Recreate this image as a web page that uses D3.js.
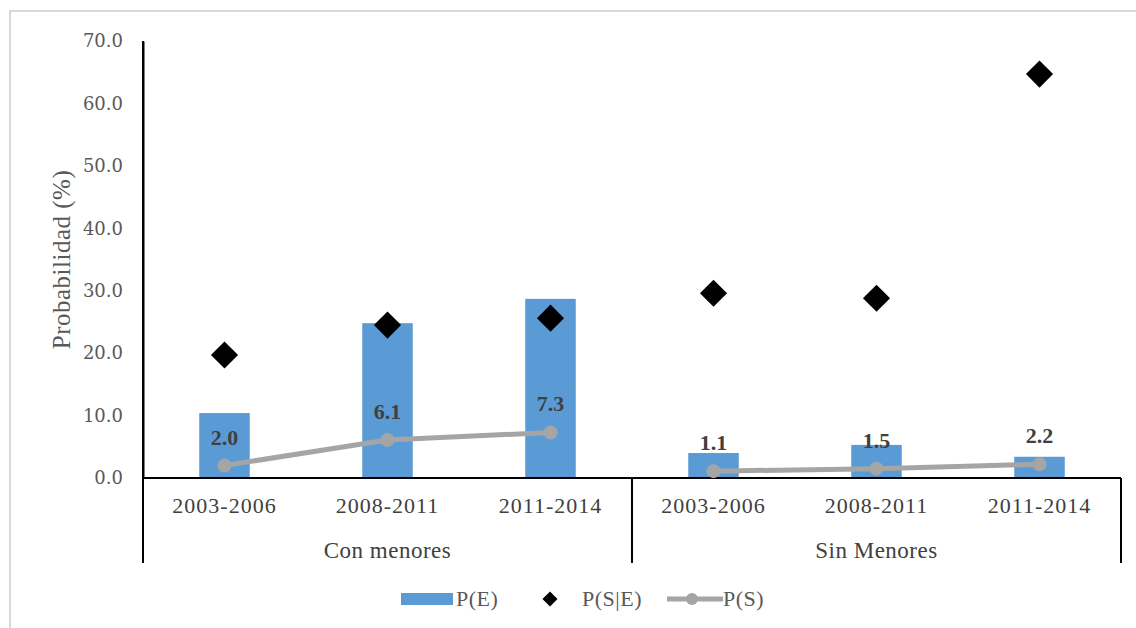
<!DOCTYPE html>
<html>
<head>
<meta charset="utf-8">
<script src="https://cdn.jsdelivr.net/npm/d3@7"></script>
<style>
  body { margin: 0; background: #fff; }
  text { font-family: "Liberation Serif", "Times New Roman", serif; }
</style>
</head>
<body>
<div id="chart"></div>
<script>
// data
var groups = ["Con menores", "Sin Menores"];
var periods = ["2003-2006", "2008-2011", "2011-2014"];
var pE = [10.4, 24.8, 28.7, 4.0, 5.3, 3.4];
var pSE = [19.7, 24.5, 25.6, 29.6, 28.8, 64.7];
var pS = [2.0, 6.1, 7.3, 1.1, 1.5, 2.2];
var yTicks = [0, 10, 20, 30, 40, 50, 60, 70];

var W = 1136, H = 628;
var margin = {top: 41, left: 143, right: 15, bottom: 150};
var plotW = 1121 - margin.left;
var plotH = 478 - margin.top;

var svg = d3.select("#chart").append("svg")
    .attr("width", W)
    .attr("height", H);

// light frame
svg.append("path")
    .attr("d", "M10," + H + "V11H" + W)
    .attr("fill", "none")
    .attr("stroke", "#d9d9d9")
    .attr("stroke-width", 2);

var g = svg.append("g")
    .attr("transform", "translate(" + margin.left + "," + margin.top + ")");

// one band per (group, period)
var keys = [];
groups.forEach(function(gr, gi) {
  periods.forEach(function(p, pi) { keys.push(gi * periods.length + pi); });
});

var x = d3.scaleBand()
    .domain(keys)
    .range([0, plotW])
    .paddingInner(0.69)
    .paddingOuter(0.345);

var y = d3.scaleLinear()
    .domain([0, 70])
    .range([plotH, 0]);

// y axis
var yAxis = g.append("g")
    .call(d3.axisLeft(y).tickValues(yTicks).tickFormat(d3.format(".1f")).tickSize(0).tickPadding(20));
yAxis.select(".domain").attr("stroke", "#000").attr("stroke-width", 2);
yAxis.selectAll("text")
    .style("font-size", "18px")
    .style("fill", "#595959")
    .style("font-family", "'DejaVu Serif', serif");

// axis title
g.append("text")
    .attr("transform", "translate(-73," + (plotH / 2) + ") rotate(-90)")
    .attr("text-anchor", "middle")
    .style("font-size", "25px")
    .style("letter-spacing", "0.5px")
    .style("fill", "#595959")
    .text("Probabilidad (%)");

// bars
g.selectAll(".bar")
    .data(pE)
    .enter()
    .append("rect")
    .attr("class", "bar")
    .attr("x", function(d, i) { return x(i); })
    .attr("width", x.bandwidth())
    .attr("y", function(d) { return y(d); })
    .attr("height", function(d) { return y(0) - y(d); })
    .attr("fill", "#5b9bd5");

// category box
var step = x.step();
var boxBottom = 563 - margin.top;
g.append("line")
    .attr("x1", 0).attr("x2", plotW)
    .attr("y1", plotH).attr("y2", plotH)
    .attr("stroke", "#000").attr("stroke-width", 2);
[0, 3, 6].forEach(function(k) {
  g.append("line")
      .attr("x1", k * step).attr("x2", k * step)
      .attr("y1", k === 0 ? 0 : plotH).attr("y2", boxBottom)
      .attr("stroke", "#000").attr("stroke-width", 2);
});

// period labels
g.selectAll(".per")
    .data(keys)
    .enter()
    .append("text")
    .attr("class", "per")
    .attr("x", function(d) { return x(d) + x.bandwidth() / 2; })
    .attr("y", plotH + 35)
    .attr("text-anchor", "middle")
    .style("font-size", "22px")
    .style("letter-spacing", "1px")
    .style("fill", "#404040")
    .text(function(d) { return periods[d % periods.length]; });

// group labels
g.selectAll(".grp")
    .data(groups)
    .enter()
    .append("text")
    .attr("class", "grp")
    .attr("x", function(d, i) { return (i * 3 + 1.5) * step; })
    .attr("y", plotH + 80)
    .attr("text-anchor", "middle")
    .style("font-size", "23px")
    .style("letter-spacing", "0.5px")
    .style("fill", "#404040")
    .text(function(d) { return d; });

// P(S) lines, broken between groups
var line = d3.line()
    .x(function(d) { return x(d.k) + x.bandwidth() / 2; })
    .y(function(d) { return y(d.v); });

groups.forEach(function(gr, gi) {
  var pts = periods.map(function(p, pi) {
    var k = gi * periods.length + pi;
    return {k: k, v: pS[k]};
  });
  g.append("path")
      .datum(pts)
      .attr("d", line)
      .attr("fill", "none")
      .attr("stroke", "#a5a5a5")
      .attr("stroke-width", 5);
});

g.selectAll(".dot")
    .data(pS)
    .enter()
    .append("circle")
    .attr("cx", function(d, i) { return x(i) + x.bandwidth() / 2; })
    .attr("cy", function(d) { return y(d); })
    .attr("r", 7)
    .attr("fill", "#a5a5a5");

// labels for P(S)
g.selectAll(".lab")
    .data(pS)
    .enter()
    .append("text")
    .attr("class", "lab")
    .attr("x", function(d, i) { return x(i) + x.bandwidth() / 2; })
    .attr("y", function(d) { return y(d) - 21; })
    .attr("text-anchor", "middle")
    .style("font-size", "22px")
    .style("font-weight", "bold")
    .style("fill", "#404040")
    .text(function(d) { return d3.format(".1f")(d); });

// P(S|E) diamonds
var diamond = d3.symbol().type(d3.symbolDiamond2).size(470);
g.selectAll(".dia")
    .data(pSE)
    .enter()
    .append("path")
    .attr("class", "dia")
    .attr("d", diamond)
    .attr("transform", function(d, i) {
      return "translate(" + (x(i) + x.bandwidth() / 2) + "," + y(d) + ")";
    })
    .attr("fill", "#000");

// legend
var leg = svg.append("g").attr("transform", "translate(0,599)");
leg.append("rect")
    .attr("x", 401).attr("y", -6).attr("width", 52).attr("height", 12)
    .attr("fill", "#5b9bd5");
leg.append("text").attr("x", 456).attr("y", 7)
    .style("font-size", "22px").style("letter-spacing", "0.5px").style("fill", "#595959").text("P(E)");
leg.append("path")
    .attr("d", d3.symbol().type(d3.symbolDiamond2).size(145))
    .attr("transform", "translate(550,0)")
    .attr("fill", "#000");
leg.append("text").attr("x", 582).attr("y", 7)
    .style("font-size", "22px").style("letter-spacing", "0.5px").style("fill", "#595959").text("P(S|E)");
leg.append("line")
    .attr("x1", 667).attr("x2", 723).attr("y1", 0).attr("y2", 0)
    .attr("stroke", "#a5a5a5").attr("stroke-width", 5);
leg.append("circle").attr("cx", 692).attr("cy", 0).attr("r", 6).attr("fill", "#a5a5a5");
leg.append("text").attr("x", 723).attr("y", 7)
    .style("font-size", "22px").style("letter-spacing", "0.5px").style("fill", "#595959").text("P(S)");
</script>
</body>
</html>
